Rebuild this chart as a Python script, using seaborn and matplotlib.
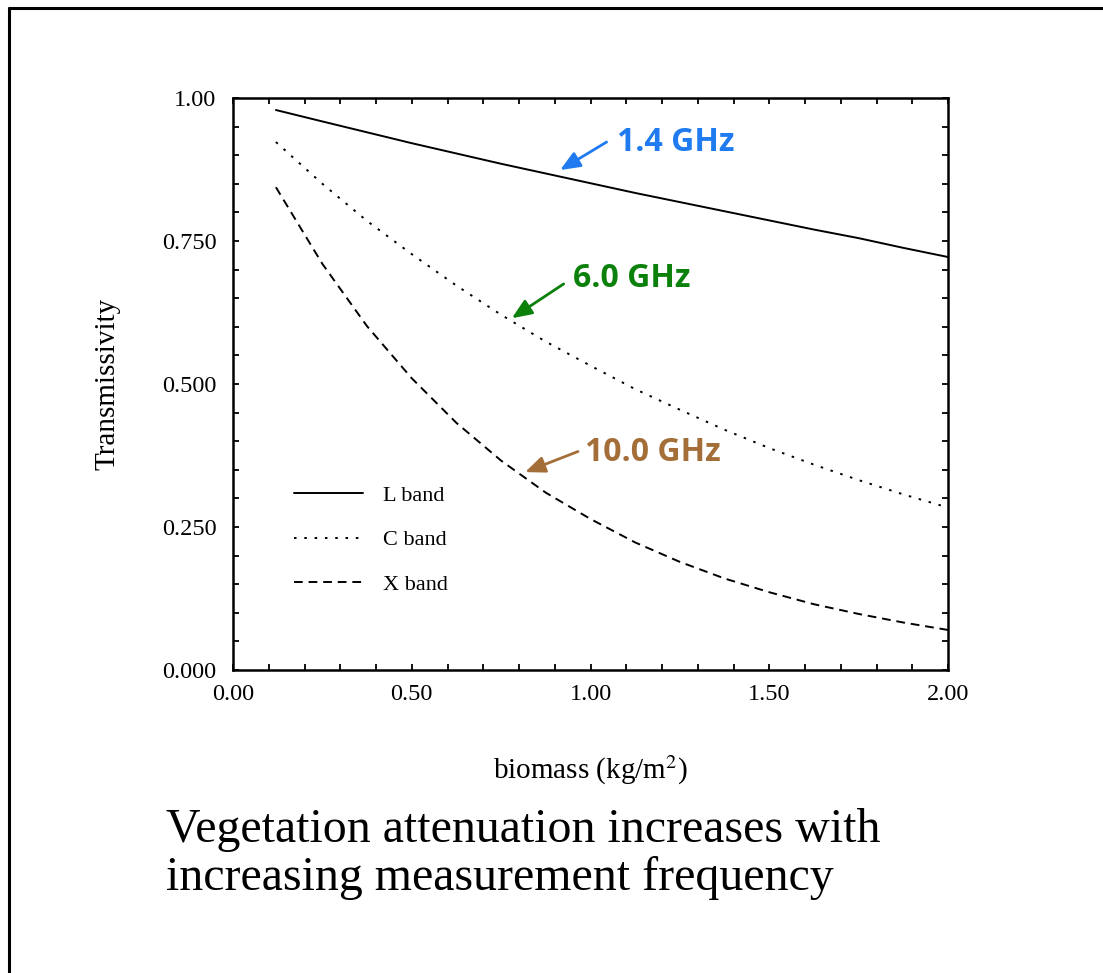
import matplotlib
matplotlib.use('Agg')
import matplotlib.pyplot as plt
import seaborn as sns
import pandas as pd
from matplotlib.lines import Line2D
from matplotlib.ticker import MultipleLocator, FixedLocator, FixedFormatter

# biomass (kg/m2) and transmissivity
biomass = [0.12, 0.25, 0.375, 0.5, 0.625, 0.75, 0.875, 1.0,
           1.125, 1.25, 1.375, 1.5, 1.625, 1.75, 1.875, 2.0]
l_band = [0.979, 0.959, 0.940, 0.921, 0.903, 0.885, 0.868, 0.851,
          0.834, 0.818, 0.802, 0.786, 0.770, 0.755, 0.738, 0.722]
c_band = [0.923, 0.850, 0.785, 0.727, 0.672, 0.621, 0.574, 0.532,
          0.491, 0.455, 0.420, 0.388, 0.359, 0.332, 0.307, 0.284]
x_band = [0.844, 0.710, 0.601, 0.510, 0.432, 0.366, 0.310, 0.264,
          0.223, 0.189, 0.160, 0.136, 0.115, 0.098, 0.083, 0.070]

series_names = ['L band', 'C band', 'X band']
x_ticks = [0.0, 0.5, 1.0, 1.5, 2.0]
x_ticklabels = ['0.00', '0.50', '1.00', '1.50', '2.00']
y_ticks = [0.0, 0.25, 0.5, 0.75, 1.0]
y_ticklabels = ['0.000', '0.250', '0.500', '0.750', '1.00']

freq_labels = ['1.4 GHz', '6.0 GHz', '10.0 GHz']
freq_colors = ['#1f7bef', '#0b800b', '#a36e37']
# arrow tip on the curve, arrow tail, text left edge (data units)
arrow_tip = [(0.915, 0.874), (0.78, 0.615), (0.817, 0.346)]
arrow_tail = [(1.045, 0.923), (0.925, 0.675), (0.965, 0.382)]
text_pos = [(1.075, 0.922), (0.95, 0.684), (0.985, 0.381)]

sns.set_style('ticks')
plt.rcParams['font.family'] = ['Liberation Serif', 'DejaVu Serif']
plt.rcParams['mathtext.fontset'] = 'stix'
plt.rcParams['text.color'] = 'black'
plt.rcParams['axes.labelcolor'] = 'black'

df = pd.DataFrame({'biomass': biomass * 3,
                   'T': l_band + c_band + x_band,
                   'band': [n for n in series_names for _ in biomass]})

fig = plt.figure(figsize=(11.03, 9.73), dpi=100)
ax = fig.add_axes([233/1103, 1-670/973, (948-233)/1103, (670-98)/973])

styles = {'L band': '-', 'C band': (0, (1.3, 4.0)), 'X band': (0, (4.5, 3))}
for name in series_names:
    sub = df[df['band'] == name]
    sns.lineplot(data=sub, x='biomass', y='T', ax=ax, color='black',
                 linewidth=1.4, linestyle=styles[name], label=name)

ax.set_xlim(0, 2.0)
ax.set_ylim(0, 1.0)
ax.xaxis.set_major_locator(FixedLocator(x_ticks))
ax.xaxis.set_major_formatter(FixedFormatter(x_ticklabels))
ax.yaxis.set_major_locator(FixedLocator(y_ticks))
ax.yaxis.set_major_formatter(FixedFormatter(y_ticklabels))
ax.xaxis.set_minor_locator(MultipleLocator(0.1))
ax.yaxis.set_minor_locator(MultipleLocator(0.05))
ax.tick_params(which='both', direction='in', top=True, right=True,
               length=4, width=1.3, colors='black')
ax.tick_params(axis='x', labelsize=17.5, pad=10)
ax.tick_params(axis='y', labelsize=17.5, pad=12)
for sp in ax.spines.values():
    sp.set_visible(True)
    sp.set_linewidth(1.8)
    sp.set_color('black')

ax.set_xlabel('biomass (kg/m$^2$)', fontsize=21, labelpad=35)
ax.set_ylabel('Transmissivity', fontsize=21, labelpad=30)

leg = ax.legend(loc='upper left', bbox_to_anchor=(0.057, 0.358), frameon=False,
                fontsize=16, handlelength=3.1, handletextpad=0.9,
                labelspacing=1.08)

# frequency call-outs
for lab, col, tip, tail, txt in zip(freq_labels, freq_colors, arrow_tip,
                                    arrow_tail, text_pos):
    ax.annotate('', xy=tip, xytext=tail,
                arrowprops=dict(arrowstyle='-|>,head_width=0.5,head_length=1.2',
                                color=col, lw=2, shrinkA=0, shrinkB=0))
    ax.text(txt[0], txt[1], lab, color=col, fontsize=23, fontweight='bold',
            family=['Open Sans', 'DejaVu Sans'], va='center', ha='left')

fig.text(166/1103, 1-842/973, 'Vegetation attenuation increases with',
         fontsize=34.5, ha='left', va='baseline')
fig.text(166/1103, 1-890/973, 'increasing measurement frequency',
         fontsize=34.5, ha='left', va='baseline')

# page frame
fig.add_artist(Line2D([9/1103, 9/1103], [0, 1-8/973], color='black', lw=2.2,
                      transform=fig.transFigure))
fig.add_artist(Line2D([9/1103, 1], [1-8/973, 1-8/973], color='black', lw=2.2,
                      transform=fig.transFigure))

fig.savefig('out.png', dpi=100)
